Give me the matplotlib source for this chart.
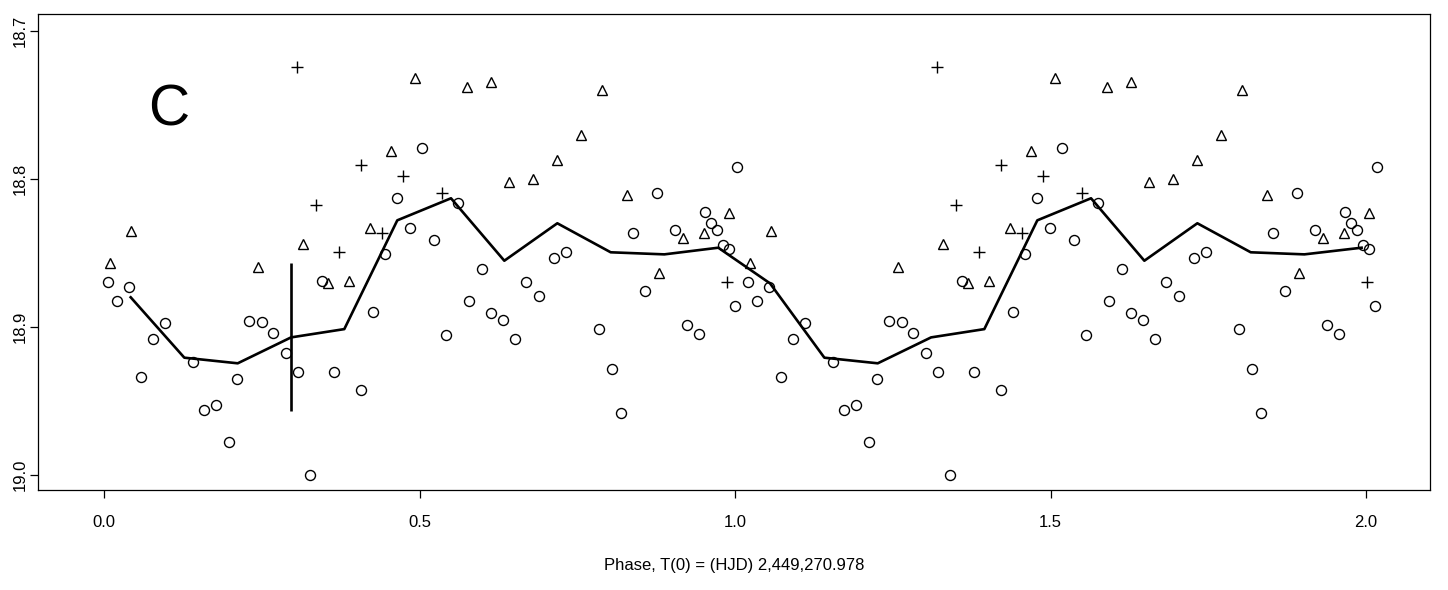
import matplotlib
matplotlib.use("Agg")
import matplotlib.pyplot as plt
import numpy as np

plt.rcParams['font.family'] = ['Liberation Sans', 'DejaVu Sans']

# ---- data (first cycle); the second cycle is the same data shifted ----
cycle_shift = 1.0143

circ_phase = [0.0068, 0.0396, 0.0211, 0.0971, 0.0772, 0.0586, 0.1406, 0.2113, 0.1590,
              0.1775, 0.1976, 0.2303, 0.2499, 0.2683, 0.2880, 0.3079, 0.3265, 0.3450,
              0.3645, 0.4078, 0.4263, 0.4458, 0.4648, 0.4845, 0.5035, 0.5225, 0.5415,
              0.5605, 0.5789, 0.5986, 0.6128, 0.6318, 0.6513, 0.6688, 0.6899, 0.7136,
              0.7322, 0.7850, 0.8046, 0.8189, 0.8379, 0.8574, 0.8759, 0.9049, 0.9244,
              0.9434, 0.9525, 0.9624, 0.9719, 0.9815, 0.9910, 1.0000, 1.0027]
circ_mag = [18.8694, 18.8728, 18.8824, 18.8975, 18.9081, 18.9340, 18.9234, 18.9353, 18.9563,
            18.9527, 18.9779, 18.8957, 18.8966, 18.9043, 18.9174, 18.9302, 19.0000, 18.8687,
            18.9304, 18.9426, 18.8897, 18.8507, 18.8130, 18.8329, 18.7793, 18.8410, 18.9054,
            18.8160, 18.8826, 18.8608, 18.8903, 18.8953, 18.9083, 18.8694, 18.8791, 18.8536,
            18.8491, 18.9014, 18.9286, 18.9583, 18.8367, 18.8757, 18.8093, 18.8347, 18.8986,
            18.9045, 18.8220, 18.8295, 18.8347, 18.8444, 18.8473, 18.8855, 18.7917]

tri_phase = [0.0095, 0.0428, 0.2445, 0.3158, 0.3555, 0.3883, 0.4216, 0.4548, 0.4924,
             0.5748, 0.6128, 0.6414, 0.6804, 0.7174, 0.7559, 0.7897, 0.8284, 0.8800,
             0.9181, 0.9513, 0.9897]
tri_mag = [18.8570, 18.8349, 18.8593, 18.8439, 18.8701, 18.8689, 18.8331, 18.7811, 18.7316,
           18.7376, 18.7345, 18.8018, 18.8002, 18.7872, 18.7703, 18.7399, 18.8108, 18.8637,
           18.8401, 18.8363, 18.8228]

plus_phase = [0.3063, 0.3352, 0.3729, 0.4068, 0.4398, 0.4743, 0.5361, 0.9878]
plus_mag = [18.7241, 18.8176, 18.8491, 18.7903, 18.8365, 18.7980, 18.8093, 18.8699]

line_phase = [0.0423, 0.1273, 0.2119, 0.2964, 0.3808, 0.4648, 0.5499, 0.6344, 0.7184,
              0.8030, 0.8880, 0.9735, 1.0555, 1.1416, 1.2262, 1.3107, 1.3951, 1.4791,
              1.5642, 1.6487, 1.7327, 1.8173, 1.9023, 1.9930]
line_mag = [18.8799, 18.9207, 18.9245, 18.9070, 18.9014, 18.8279, 18.8130, 18.8552, 18.8299,
            18.8495, 18.8509, 18.8464, 18.8705, 18.9207, 18.9245, 18.9070, 18.9014, 18.8279,
            18.8130, 18.8552, 18.8299, 18.8495, 18.8509, 18.8464]

err_phase = [0.2964]
err_mag = [18.9070]
err_size = [0.05]

x_ticks = [0.0, 0.5, 1.0, 1.5, 2.0]
x_ticklabels = ["0.0", "0.5", "1.0", "1.5", "2.0"]
y_ticks = [18.7, 18.8, 18.9, 19.0]
y_ticklabels = ["18.7", "18.8", "18.9", "19.0"]
xlabel = "Phase, T(0) = (HJD) 2,449,270.978"
panel_label = "C"

# ---- figure ----
fig = plt.figure(figsize=(14.48, 5.90), dpi=100)
ax = fig.add_axes([38 / 1448, 100 / 590, 1392 / 1448, 476 / 590])

def both(ph):
    ph = np.asarray(ph)
    return np.concatenate([ph, ph + cycle_shift])

def twice(v):
    v = np.asarray(v)
    return np.concatenate([v, v])

ax.plot(both(circ_phase), twice(circ_mag), linestyle='none', marker='o', ms=7.2,
        mfc='none', mec='black', mew=1.0)
ax.plot(both(tri_phase), twice(tri_mag), linestyle='none', marker='^', ms=7.5,
        mfc='none', mec='black', mew=1.0)
ax.plot(both(plus_phase), twice(plus_mag), linestyle='none', marker='+', ms=8.5,
        mec='black', mew=1.0)
ax.plot(line_phase, line_mag, color='black', lw=1.9)
ax.errorbar(err_phase, err_mag, yerr=err_size, fmt='none', ecolor='black',
            elinewidth=1.9, capsize=0)

ax.text(0.102, 18.7535, panel_label, fontsize=41, ha='center', va='center')

ax.set_xlim(-0.1046, 2.1014)
ax.set_ylim(19.0101, 18.6885)

ax.set_xticks(x_ticks)
ax.set_xticklabels(x_ticklabels)
ax.set_yticks(y_ticks)
ax.set_yticklabels(y_ticklabels, rotation=90, va='center')
ax.tick_params(direction='out', length=6, width=0.9, labelsize=12, pad=12)
ax.tick_params(axis='y', pad=1.5)
for s in ax.spines.values():
    s.set_linewidth(0.9)

ax.set_xlabel(xlabel, fontsize=12, labelpad=20)

fig.savefig("out.png", dpi=100)
